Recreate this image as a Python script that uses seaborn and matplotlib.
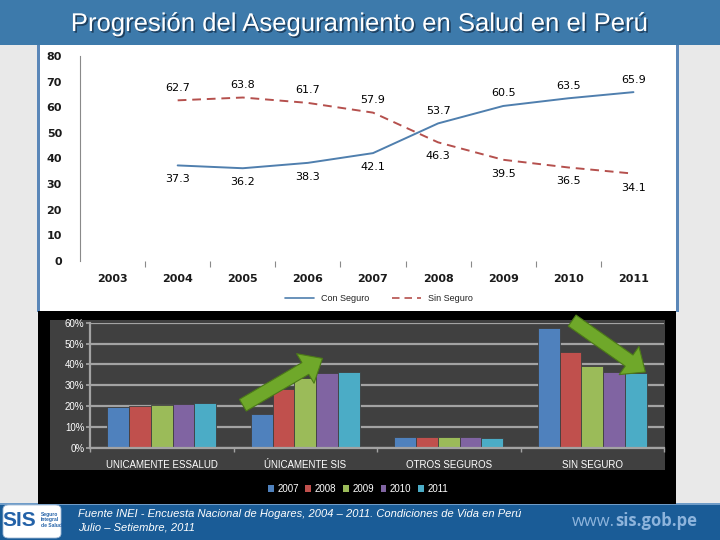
import pandas as pd
import matplotlib
matplotlib.use('Agg')
import matplotlib.pyplot as plt
import matplotlib.patheffects as pe
from matplotlib.patches import Rectangle, FancyBboxPatch, Patch
from matplotlib.lines import Line2D
from matplotlib.ticker import FixedLocator
import seaborn as sns

# ── Data: line chart ─────────────────────────────────────────────────────────
AXIS_YEARS = [2003, 2004, 2005, 2006, 2007, 2008, 2009, 2010, 2011]
YEARS      = [2004, 2005, 2006, 2007, 2008, 2009, 2010, 2011]
CON_SEGURO = [37.3, 36.2, 38.3, 42.1, 53.7, 60.5, 63.5, 65.9]
SIN_SEGURO = [62.7, 63.8, 61.7, 57.9, 46.3, 39.5, 36.5, 34.1]

# ── Data: bar chart (%) ──────────────────────────────────────────────────────
CATEGORIAS = ['UNICAMENTE ESSALUD', 'ÚNICAMENTE SIS', 'OTROS SEGUROS', 'SIN SEGURO']
BAR_YEARS  = ['2007', '2008', '2009', '2010', '2011']
ESSALUD    = [19.8, 20.0, 20.8, 21.2, 21.7]
SOLO_SIS   = [16.5, 28.1, 33.5, 36.0, 36.3]
OTROS      = [5.3, 5.3, 5.3, 5.3, 4.7]
SIN_BARS   = [57.5, 45.8, 39.2, 36.3, 36.0]

# ── Palette ──────────────────────────────────────────────────────────────────
BAND     = "#3d7aab"
FOOT     = "#1a5c97"
LBLUE    = "#4f7fae"
LRED     = "#b5504d"
BAR_COLS = ["#4f81bd", "#c0504d", "#9bbb59", "#8064a2", "#4bacc6"]
PLOTBG   = "#404040"
GRIDC    = "#a3a3a3"
ARROW_FC = "#6fa82a"
ARROW_EC = "#4c7a18"

W, H = 720, 540


def box(x0, y0, x1, y1):
    return [x0 / W, 1 - y1 / H, (x1 - x0) / W, (y1 - y0) / H]


def rect(fig, x0, y0, x1, y1, color, z=-5):
    fig.add_artist(Rectangle((x0 / W, 1 - y1 / H), (x1 - x0) / W, (y1 - y0) / H,
                             transform=fig.transFigure, facecolor=color,
                             edgecolor='none', zorder=z))


sns.set_theme(style='white')
plt.rcParams['font.family'] = ['Liberation Sans', 'DejaVu Sans']

fig = plt.figure(figsize=(7.2, 5.4), dpi=100, facecolor='#e9e9e9')

# ── Slide frame ──────────────────────────────────────────────────────────────
rect(fig, 0, 0, 720, 45, BAND)
rect(fig, 37, 45, 679, 312, "#5b87b8")
rect(fig, 40, 45, 676, 312, "white", z=-4)
rect(fig, 38, 311, 676, 504, "black", z=-4)
rect(fig, 50, 320, 665, 470, PLOTBG, z=-3)
rect(fig, 0, 504, 720, 540, FOOT)
rect(fig, 0, 503, 720, 505, "#6f9cc8", z=-4.5)

fig.text(0.5, 1 - 24 / H, "Progresión del Aseguramiento en Salud en el Perú",
         ha='center', va='center', color='white', fontsize=18.5,
         path_effects=[pe.SimplePatchShadow(offset=(1.2, -1.2), shadow_rgbFace='#1b3a58', alpha=0.9),
                       pe.Normal()])

# ══════════════════════════════════════════════════════════════════════════════
# 1. LINE CHART
# ══════════════════════════════════════════════════════════════════════════════
ax1 = fig.add_axes(box(80, 56, 666, 261))
ax1.set_facecolor('none')
df_line = pd.DataFrame({
    'Año': YEARS * 2,
    'Valor': CON_SEGURO + SIN_SEGURO,
    'Serie': ['Con Seguro'] * len(YEARS) + ['Sin Seguro'] * len(YEARS),
})
sns.lineplot(data=df_line, x='Año', y='Valor', hue='Serie', style='Serie',
             palette=[LBLUE, LRED], dashes=['', (4.5, 3)], linewidth=1.4,
             legend=False, ax=ax1)

for yr, c, s in zip(YEARS, CON_SEGURO, SIN_SEGURO):
    hi, lo = max(c, s), min(c, s)
    ax1.annotate(f"{hi:.1f}", (yr, hi), xytext=(0, 9), textcoords='offset points',
                 ha='center', va='center', fontsize=8, family='DejaVu Sans', color='#000')
    ax1.annotate(f"{lo:.1f}", (yr, lo), xytext=(0, -10), textcoords='offset points',
                 ha='center', va='center', fontsize=8, family='DejaVu Sans', color='#000')

ax1.set_xlim(AXIS_YEARS[0] - 0.5, AXIS_YEARS[-1] + 0.5)
ax1.set_ylim(0, 80)
ax1.set_xticks(AXIS_YEARS)
ax1.set_xticklabels([str(y) for y in AXIS_YEARS])
ax1.xaxis.set_minor_locator(FixedLocator([y + 0.5 for y in AXIS_YEARS[:-1]]))
ax1.set_yticks(range(0, 81, 10))
ax1.yaxis.set_minor_locator(FixedLocator([10, 30, 50, 70]))
ax1.tick_params(axis='both', which='both', left=True, bottom=True)
ax1.tick_params(axis='both', which='major', length=0, labelsize=8, labelcolor='#1a1a1a')
ax1.tick_params(axis='x', which='major', pad=9)
ax1.tick_params(axis='y', which='major', pad=13)
ax1.tick_params(axis='both', which='minor', length=4, width=0.8, color='#8a8a8a', direction='out')
for lab in ax1.get_xticklabels() + ax1.get_yticklabels():
    lab.set_family('DejaVu Sans')
    lab.set_fontweight('bold')
ax1.set_xlabel('')
ax1.set_ylabel('')
ax1.spines[['top', 'right', 'bottom']].set_visible(False)
ax1.spines['left'].set_color('#8a8a8a')
ax1.spines['left'].set_linewidth(0.8)

handles = [Line2D([], [], color=LBLUE, lw=1.2),
           Line2D([], [], color=LRED, lw=1.2, dashes=(4.5, 3))]
ax1.legend(handles, ['Con Seguro', 'Sin Seguro'], loc='center',
           bbox_to_anchor=(0.51, -0.185), ncol=2, frameon=False, fontsize=6.5,
           handlelength=3.2, columnspacing=2.5, labelcolor='#222')

# ══════════════════════════════════════════════════════════════════════════════
# 2. BAR CHART
# ══════════════════════════════════════════════════════════════════════════════
ax2 = fig.add_axes(box(90, 322.7, 664, 448))
ax2.set_facecolor(PLOTBG)
series = [ESSALUD, SOLO_SIS, OTROS, SIN_BARS]
df_bar = pd.DataFrame({
    'Categoria': [c for c in CATEGORIAS for _ in BAR_YEARS],
    'Año': BAR_YEARS * len(CATEGORIAS),
    'Valor': [v for s in series for v in s],
})
sns.barplot(data=df_bar, x='Categoria', y='Valor', hue='Año', order=CATEGORIAS,
            hue_order=BAR_YEARS, palette=BAR_COLS, saturation=1, width=0.76,
            edgecolor=PLOTBG, linewidth=0.6, legend=False, ax=ax2)

ax2.set_xlim(-0.5, len(CATEGORIAS) - 0.5)
ax2.set_ylim(0, 60)
ax2.set_yticks(range(0, 61, 10))
ax2.set_yticklabels([f"{v}%" for v in range(0, 61, 10)])
ax2.yaxis.grid(True, color=GRIDC, linewidth=1.6)
ax2.set_axisbelow(True)
ax2.xaxis.set_minor_locator(FixedLocator([i + 0.5 for i in range(-1, len(CATEGORIAS))]))
ax2.tick_params(axis='both', which='both', left=True, bottom=True)
ax2.tick_params(axis='x', which='major', length=0, pad=9, labelsize=7, labelcolor='white')
ax2.tick_params(axis='x', which='minor', length=3, color=GRIDC, direction='out')
ax2.tick_params(axis='y', length=3, color=GRIDC, labelsize=7, labelcolor='white', pad=1)
ax2.set_xlabel('')
ax2.set_ylabel('')
ax2.spines[['top', 'right']].set_visible(False)
for side in ['left', 'bottom']:
    ax2.spines[side].set_color(GRIDC)
    ax2.spines[side].set_linewidth(1.6)

# trend arrows anchored to the SIS and SIN SEGURO bars
half = 0.38
arrow_style = 'simple,head_length=1.1,head_width=1.9,tail_width=0.75'
for tail, head in [((1 - half - 0.055, SOLO_SIS[0] + 4.0), (1 + 0.12, SOLO_SIS[-1] + 6.6)),
                   ((3 - half + 0.24, SIN_BARS[0] + 3.5), (3 + 0.37, SIN_BARS[-1] + 0.4))]:
    ax2.annotate('', xy=head, xytext=tail, annotation_clip=False,
                 arrowprops=dict(arrowstyle=arrow_style, fc=ARROW_FC, ec=ARROW_EC,
                                 lw=0.8, shrinkA=0, shrinkB=0, mutation_scale=13))

leg_handles = [Patch(facecolor=c, edgecolor='none') for c in BAR_COLS]
fig.legend(leg_handles, BAR_YEARS, loc='center', bbox_to_anchor=(358 / W, 1 - 489 / H),
           ncol=5, frameon=False, fontsize=7, labelcolor='white', handlelength=0.6,
           handleheight=0.6, handletextpad=0.35, columnspacing=0.7)

# ── Footer ───────────────────────────────────────────────────────────────────
fig.add_artist(FancyBboxPatch((3 / W, 1 - 538 / H), 58 / W, 33 / H,
                              boxstyle='round,pad=0,rounding_size=0.008',
                              transform=fig.transFigure, facecolor='white',
                              edgecolor='#9fb9d6', lw=0.6, zorder=1))
fig.text(19 / W, 1 - 521 / H, "SIS", ha='center', va='center', color='#2462a8',
         fontsize=15, fontweight='bold', zorder=2)
fig.text(41 / W, 1 - 520 / H, "Seguro\nIntegral\nde Salud", ha='left', va='center',
         color='#2462a8', fontsize=3.6, fontweight='bold', linespacing=1.1, zorder=2)
fig.text(78 / W, 1 - 514 / H,
         "Fuente INEI - Encuesta Nacional de Hogares, 2004 – 2011. Condiciones de Vida en Perú",
         ha='left', va='center', color='white', fontsize=8, style='italic')
fig.text(78 / W, 1 - 527 / H, "Julio – Setiembre, 2011",
         ha='left', va='center', color='white', fontsize=8, style='italic')
www = fig.text(572 / W, 1 - 522 / H, "www.", ha='left', va='center', color='#8db4dc',
               fontsize=12, family=['Open Sans', 'DejaVu Sans'])
plt.annotate("sis.gob.pe", xy=(1, 0), xycoords=www, va='bottom', ha='left',
             color='#8db4dc', fontsize=12, fontweight='bold',
             family=['Open Sans', 'DejaVu Sans'], annotation_clip=False)

fig.savefig('out.png', dpi=100, facecolor=fig.get_facecolor())
